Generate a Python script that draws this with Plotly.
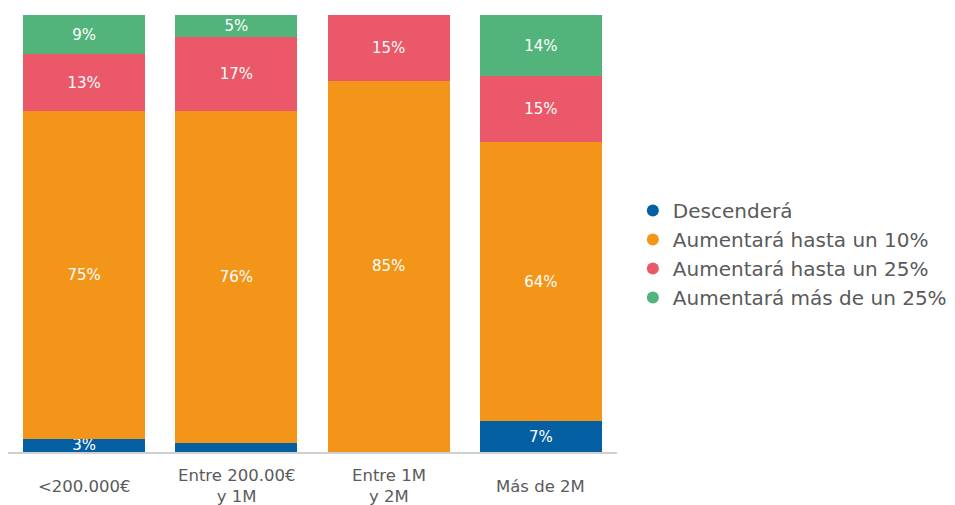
import plotly.graph_objects as go

categories = ["<200.000€", "Entre 200.00€<br>y 1M", "Entre 1M<br>y 2M", "Más de 2M"]
series_names = ["Descenderá", "Aumentará hasta un 10%", "Aumentará hasta un 25%", "Aumentará más de un 25%"]
descendera = [3, 2, 0, 7]
hasta_10 = [75, 76, 85, 64]
hasta_25 = [13, 17, 15, 15]
mas_25 = [9, 5, 0, 14]
colors = ["#055FA3", "#F39519", "#EA5869", "#52B47A"]

series_values = [descendera, hasta_10, hasta_25, mas_25]

FONT = "DejaVu Sans"
fig = go.Figure()
for name, vals, col in zip(series_names, series_values, colors):
    labels = [f"{v}%" if v >= 3 else "" for v in vals]
    fig.add_trace(go.Bar(
        x=categories, y=vals, name=name, marker=dict(color=col, line=dict(width=0)),
        text=labels, textposition="inside", insidetextanchor="middle", textangle=0,
        constraintext="none",
        insidetextfont=dict(color="white", size=15, family=FONT),
        showlegend=False, hoverinfo="skip",
    ))
for name, col in zip(series_names, colors):
    fig.add_trace(go.Scatter(
        x=[None], y=[None], mode="markers", name=name,
        marker=dict(color=col, size=10, symbol="circle"),
    ))

# category labels, vertically centred under the axis like the reference
for cat in categories:
    fig.add_annotation(x=cat, y=0, xref="x", yref="paper", text=cat,
                       showarrow=False, yanchor="middle", xanchor="center",
                       yshift=-34, font=dict(size=16.5, color="#5A5A5A", family=FONT))

# page body has an 8px margin, so the figure is sized to fit the window
fig.update_layout(
    width=947, height=497,
    margin=dict(l=0, r=338, t=7, b=53),
    barmode="stack", bargap=0.2,
    plot_bgcolor="white", paper_bgcolor="white",
    font=dict(family=FONT, color="#5A5A5A"),
    legend=dict(x=1.026, xanchor="left", y=0.453, yanchor="middle",
                traceorder="normal", font=dict(size=20, color="#5A5A5A"),
                itemsizing="constant", tracegroupgap=0),
    showlegend=True,
)
fig.update_xaxes(showline=True, linecolor="#D0D0D0", linewidth=2, ticks="",
                 showticklabels=False, showgrid=False, automargin=False)
fig.update_yaxes(range=[0, 100], visible=False, showgrid=False, automargin=False)

fig.write_html("out.html")
